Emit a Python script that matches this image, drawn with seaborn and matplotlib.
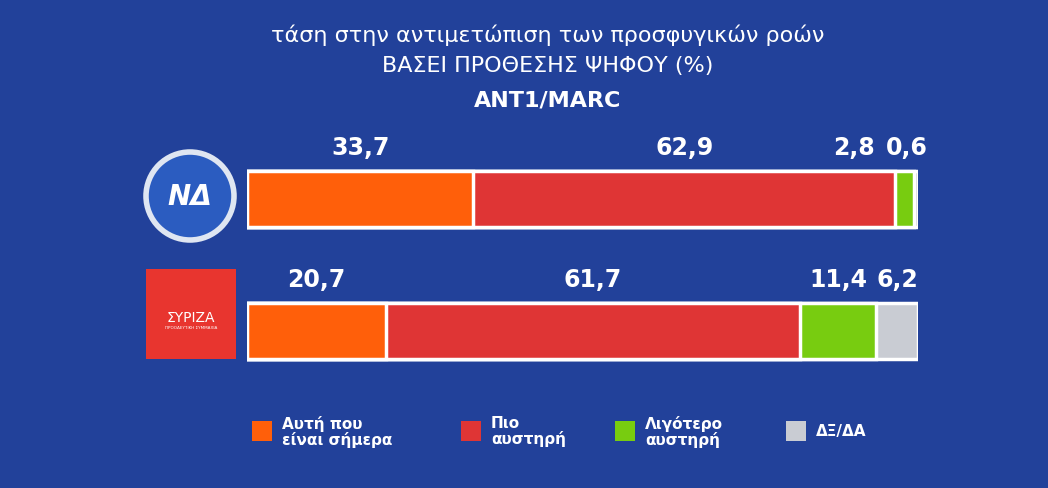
import numpy as np
import pandas as pd
import matplotlib.pyplot as plt
import seaborn as sns
from matplotlib.patches import Ellipse, Rectangle

# data
parties = ["ΝΔ", "ΣΥΡΙΖΑ"]
categories = ["Αυτή που\nείναι σήμερα", "Πιο\nαυστηρή", "Λιγότερο\nαυστηρή", "ΔΞ/ΔΑ"]
nd_values = [33.7, 62.9, 2.8, 0.6]
syriza_values = [20.7, 61.7, 11.4, 6.2]
colors = ["#ff5f0a", "#df3535", "#78cc10", "#c9ccd3"]

BG = "#22419a"
sns.set_theme(style="white")
plt.rcParams["font.family"] = ["DejaVu Sans"]

fig = plt.figure(figsize=(10.48, 4.89), dpi=100, facecolor=BG)
W, H = 1048, 489

def fx(px):
    return px / W

def fy(py):
    return 1 - py / H

ax = fig.add_axes([fx(247), fy(380), fx(918) - fx(247), (380 - 150) / H])
ax.set_facecolor("none")

vals = np.array([nd_values, syriza_values])
cum = vals.cumsum(axis=1)
# stacked bars: draw the running totals from the widest to the narrowest
for i in range(3, -1, -1):
    df = pd.DataFrame({"party": parties, "value": cum[:, i]})
    sns.barplot(data=df, x="value", y="party", orient="h", color=colors[i],
                width=0.43, edgecolor="white", linewidth=2.5, saturation=1, ax=ax)

for r in range(2):
    for i in range(4):
        start = cum[r, i] - vals[r, i]
        cx, ha = start + vals[r, i] / 2, "center"
        if vals[r, i] < 5:
            # small segments: labels pushed apart as in the original
            cx, ha = (101.5, "right") if i == 3 else (93.5, "right")
        ax.text(cx, r - 0.3, f"{vals[r, i]:.1f}".replace(".", ","), color="white",
                fontsize=17, fontweight="bold", ha=ha, va="bottom", clip_on=False)

ax.set_xlim(0, 100)
ax.set_ylim(1.364, -0.379)
ax.axis("off")

# titles
fig.text(fx(548), fy(35), "τάση στην αντιμετώπιση των προσφυγικών ροών", color="white",
         fontsize=16, ha="center", va="center")
fig.text(fx(548), fy(66), "ΒΑΣΕΙ ΠΡΟΘΕΣΗΣ ΨΗΦΟΥ (%)", color="white",
         fontsize=16, ha="center", va="center")
fig.text(fx(548), fy(101), "ANT1/MARC", color="white", fontsize=16,
         fontweight="bold", ha="center", va="center")

# logos
fig.patches.append(Ellipse((fx(190), fy(197)), 88 / W, 88 / H, transform=fig.transFigure,
                           facecolor="#2b5cc0", edgecolor="#dfe6f2", linewidth=4))
fig.text(fx(190), fy(197), "ΝΔ", color="white", fontsize=20, fontweight="bold",
         fontstyle="italic", ha="center", va="center")
fig.patches.append(Rectangle((fx(146), fy(360)), 90 / W, 90 / H, transform=fig.transFigure,
                             facecolor="#e8352f", edgecolor="none"))
fig.text(fx(191), fy(318), "ΣΥΡΙΖΑ", color="white", fontsize=10, ha="center", va="center")
fig.text(fx(191), fy(328), "ΠΡΟΟΔΕΥΤΙΚΗ ΣΥΜΜΑΧΙΑ", color="white", fontsize=3,
         ha="center", va="center")

# legend
leg_x = [262, 471, 625, 796]
for x, lab, c in zip(leg_x, categories, colors):
    fig.patches.append(Rectangle((fx(x - 10), fy(442)), 20 / W, 20 / H,
                                 transform=fig.transFigure, facecolor=c, edgecolor="none"))
    fig.text(fx(x + 20), fy(432), lab, color="white", fontsize=11, fontweight="bold",
             ha="left", va="center", linespacing=1.0)

fig.savefig("out.png", dpi=100, facecolor=BG)
